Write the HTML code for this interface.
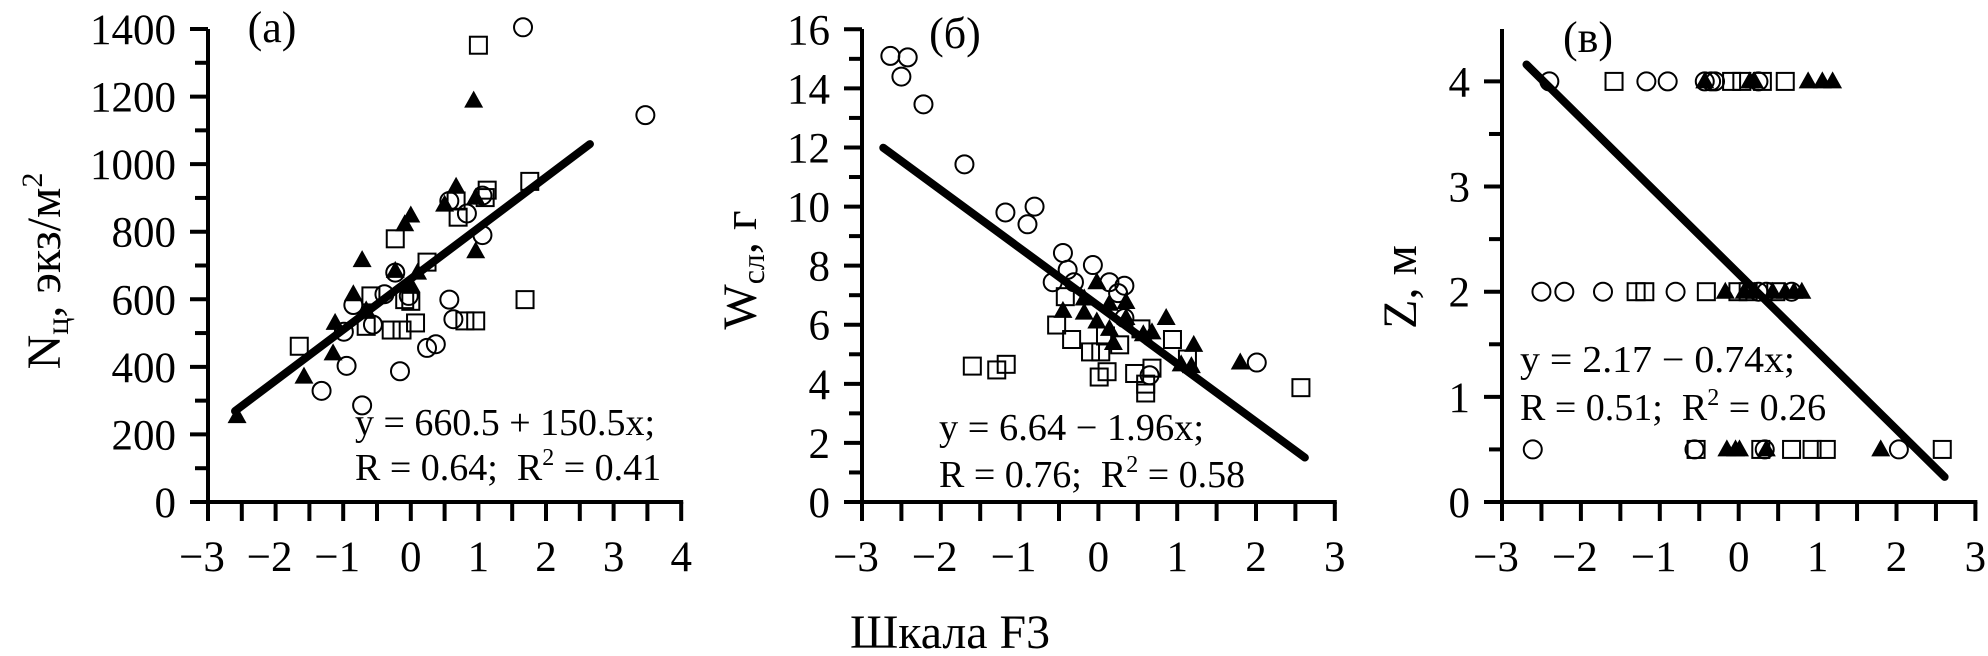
<!DOCTYPE html>
<html><head><meta charset="utf-8">
<style>
html,body{margin:0;padding:0;background:#fff;}
svg{display:block;font-family:"Liberation Serif","DejaVu Serif",serif;}
.pre{white-space:pre;}
</style></head>
<body>
<svg id="chart" width="1988" height="656" viewBox="0 0 1988 656" xmlns="http://www.w3.org/2000/svg">
  <g id="panelA"></g>
  <g id="panelB"></g>
  <g id="panelC"></g>

  <text x="272" y="42" font-size="44" text-anchor="middle">(a)</text>
  <text x="955" y="48" font-size="44" text-anchor="middle">(б)</text>
  <text x="1588" y="52" font-size="44" text-anchor="middle">(в)</text>

  <text transform="translate(60,271) rotate(-90)" font-size="48" text-anchor="middle">N<tspan font-size="32" dy="8">ц</tspan><tspan dy="-8">, экз/м</tspan><tspan font-size="30" dy="-18">2</tspan></text>
  <text transform="translate(756,270) rotate(-90)" font-size="48" text-anchor="middle">W<tspan font-size="32" dy="8">сл</tspan><tspan dy="-8">, г</tspan></text>
  <text transform="translate(1416,287) rotate(-90)" font-size="48" text-anchor="middle">Z, м</text>

  <text class="pre" x="355" y="435" font-size="38" textLength="300" lengthAdjust="spacingAndGlyphs">y = 660.5 + 150.5x;</text>
  <text class="pre" x="355" y="480" font-size="38">R = 0.64;  R<tspan font-size="24" dy="-15">2</tspan><tspan dy="15"> = 0.41</tspan></text>
  <text class="pre" x="939" y="440" font-size="38" textLength="265" lengthAdjust="spacingAndGlyphs">y = 6.64 − 1.96x;</text>
  <text class="pre" x="939" y="487" font-size="38">R = 0.76;  R<tspan font-size="24" dy="-15">2</tspan><tspan dy="15"> = 0.58</tspan></text>
  <text class="pre" x="1520" y="372" font-size="38" textLength="275" lengthAdjust="spacingAndGlyphs">y = 2.17 − 0.74x;</text>
  <text class="pre" x="1520" y="420" font-size="38">R = 0.51;  R<tspan font-size="24" dy="-15">2</tspan><tspan dy="15"> = 0.26</tspan></text>

  <text x="950" y="648" font-size="48" text-anchor="middle" textLength="200" lengthAdjust="spacingAndGlyphs">Шкала F3</text>
</svg>
<script>
// ---- Panel (a) data ----
const aCircX = [1.66,3.47,1.06,0.83,1.06,0.57,0.57,0.63,0.37,0.24,-0.16,-0.03,-0.23,-0.39,-0.56,-0.85,-0.95,-0.99,-1.32,-0.72];
const aCircY = [1405,1145,790,854,907,891,599,541,467,456,387,610,679,615,525,583,403,504,329,286];
const aSqX = [1.0,1.76,1.13,1.1,0.67,0.7,-0.23,0.24,1.69,0.8,0.96,0.07,-0.09,0.0,-0.29,-0.13,-0.59,-0.66,-1.65];
const aSqY = [1352,949,923,901,891,843,779,710,599,536,536,530,599,594,509,509,610,520,461];
const aTriX = [0.93,0.67,0.5,0.96,0.0,-0.09,0.96,-0.72,-0.23,0.1,0.0,-0.85,-0.66,-1.12,-1.15,-1.58,-2.57];
const aTriY = [1188,933,880,901,848,822,742,716,684,679,642,615,567,530,440,371,254];
const aFit = [660.5, 150.5];
const aFitRange = [-2.6, 2.65];
const aXTicks = [-3,-2,-1,0,1,2,3,4];
const aYTicks = [0,200,400,600,800,1000,1200,1400];

// ---- Panel (b) data ----
const bCircX = [-2.64,-2.42,-2.5,-2.22,-1.7,-1.18,-0.81,-0.9,-0.45,-0.39,-0.31,-0.58,-0.07,0.14,0.33,0.25,0.33,2.01,0.65];
const bCircY = [15.1,15.05,14.4,13.46,11.43,9.8,10.0,9.4,8.43,7.86,7.44,7.44,8.02,7.44,7.32,7.07,6.23,4.72,4.29];
const bSqX = [-0.42,-0.53,-0.34,-0.1,0.03,0.09,0.27,0.54,0.94,1.13,-1.6,-1.29,-1.17,0.01,0.11,0.46,0.6,0.68,0.6,2.57];
const bSqY = [6.95,5.99,5.5,5.08,5.08,5.62,5.32,5.86,5.5,4.84,4.6,4.47,4.66,4.23,4.41,4.35,3.99,4.53,3.69,3.87];
const bTriX = [-0.45,-0.02,-0.18,-0.18,-0.02,0.14,0.35,0.14,0.19,0.35,0.68,0.57,0.86,1.21,1.05,1.18,1.8];
const bTriY = [6.47,7.44,6.89,6.41,6.11,6.71,6.77,5.86,5.38,6.23,5.74,5.68,6.23,5.32,4.66,4.6,4.72];
const bFit = [6.64, -1.96];
const bFitRange = [-2.73, 2.62];
const bXTicks = [-3,-2,-1,0,1,2,3];
const bYTicks = [0,2,4,6,8,10,12,14,16];

// ---- Panel (c) data ----
const cCircX = [-2.4,-1.17,-0.9,-0.43,-0.35,-0.3,0.25,-2.5,-2.21,-1.72,-0.8,0.25,0.35,0.67,-2.61,-0.56,0.33,2.03];
const cCircY = [4,4,4,4,4,4,4,2,2,2,2,2,2,2,0.5,0.5,0.5,0.5];
const cSqX = [-1.58,-0.09,0.04,0.3,0.59,-1.3,-1.19,-0.41,-0.01,0.12,0.47,-0.54,0.28,0.67,0.93,1.11,2.58];
const cSqY = [4,4,4,4,4,2,2,2,2,2,2,0.5,0.5,0.5,0.5,0.5,0.5];
const cTriX = [-0.43,0.14,0.2,0.88,1.06,1.19,-0.17,0.07,0.2,0.43,0.59,0.7,0.8,-0.15,-0.04,0.01,0.35,1.8];
const cTriY = [4,4,4,4,4,4,2,2,2,2,2,2,2,0.5,0.5,0.5,0.5,0.5];
const cFit = [2.17, -0.74];
const cFitRange = [-2.69, 2.61];
const cXTicks = [-3,-2,-1,0,1,2,3];
const cYTicks = [0,1,2,3,4];

const NS = "http://www.w3.org/2000/svg";
function mk(tag, attrs, parent){
  const e = document.createElementNS(NS, tag);
  for (const k in attrs) e.setAttribute(k, attrs[k]);
  parent.appendChild(e);
  return e;
}

function panel(g, o){
  const sx = v => o.ax + (v - o.xmin) * o.ux;
  const sy = v => o.y0 - (v - o.ymin) * o.uy;
  const ya = mk('line', {x1:o.ax, y1:o.yTop, x2:o.ax, y2:o.y0+2, stroke:'#000','stroke-width':4}, g);
  
  
  const xa = mk('line', {x1:o.ax-18, y1:o.y0, x2:sx(o.xTicks[o.xTicks.length-1])+2, y2:o.y0, stroke:'#000','stroke-width':4}, g);
  
  
  const yMin = o.yTicks[0], yMax = o.yTicks[o.yTicks.length-1];
  for (let v = yMin; v <= yMax + 1e-9; v += o.yMinor){
    const major = Math.abs(((v - yMin) / o.yMajor) - Math.round((v - yMin) / o.yMajor)) < 1e-6;
    const t = mk('line', {x1:o.ax - (major?18:13), y1:sy(v), x2:o.ax, y2:sy(v), stroke:'#000','stroke-width':4}, g);
    
    
  }
  o.yTicks.forEach(v => {
    const t = mk('text', {x:o.ax-32, y:sy(v)+15, 'font-size':43, 'text-anchor':'end'}, g);
    t.textContent = String(v);
    
    
  });
  const x0 = o.xTicks[0], x1 = o.xTicks[o.xTicks.length-1];
  for (let v = x0; v <= x1 + 1e-9; v += 0.5){
    const t = mk('line', {x1:sx(v), y1:o.y0, x2:sx(v), y2:o.y0+19, stroke:'#000','stroke-width':4}, g);
    
    
  }
  o.xTicks.forEach(v => {
    const t = mk('text', {x:sx(v) - (v<0?6:0), y:571, 'font-size':43, 'text-anchor':'middle'}, g);
    t.textContent = v < 0 ? '\u2212' + Math.abs(v) : String(v);
    
    
  });
  o.circX.forEach((x,i) => {
    const c = mk('circle', {cx:sx(x), cy:sy(o.circY[i]), r:9, fill:'none', stroke:'#000','stroke-width':2}, g);
    
    
  });
  o.sqX.forEach((x,i) => {
    const r = mk('rect', {x:sx(x)-8.5, y:sy(o.sqY[i])-8.5, width:17, height:17, fill:'none', stroke:'#000','stroke-width':2}, g);
    
    
  });
  o.triX.forEach((x,i) => {
    const cx = sx(x), cy = sy(o.triY[i]);
    const p = mk('polygon', {points:`${cx},${cy-10} ${cx+9.5},${cy+7} ${cx-9.5},${cy+7}`, fill:'#000'}, g);
    
    
  });
  const fa = o.fitRange[0], fb = o.fitRange[1];
  const ln = mk('line', {x1:sx(fa), y1:sy(o.fit[0]+o.fit[1]*fa), x2:sx(fb), y2:sy(o.fit[0]+o.fit[1]*fb), stroke:'#000','stroke-width':8,'stroke-linecap':'round'}, g);
  
  
}

panel(document.getElementById('panelA'), {ax:208, xmin:-3, ux:67.6, y0:502, ymin:0, uy:(502-29)/1400, yTop:29,
  xTicks:aXTicks, yTicks:aYTicks, yMajor:200, yMinor:100,
  circX:aCircX, circY:aCircY, sqX:aSqX, sqY:aSqY, triX:aTriX, triY:aTriY, fit:aFit, fitRange:aFitRange});
panel(document.getElementById('panelB'), {ax:862, xmin:-3, ux:78.8, y0:502, ymin:0, uy:(502-29.3)/16, yTop:29,
  xTicks:bXTicks, yTicks:bYTicks, yMajor:2, yMinor:1,
  circX:bCircX, circY:bCircY, sqX:bSqX, sqY:bSqY, triX:bTriX, triY:bTriY, fit:bFit, fitRange:bFitRange});
panel(document.getElementById('panelC'), {ax:1502, xmin:-3, ux:78.9, y0:502, ymin:0, uy:(502-81.4)/4, yTop:29,
  xTicks:cXTicks, yTicks:cYTicks, yMajor:1, yMinor:0.5,
  circX:cCircX, circY:cCircY, sqX:cSqX, sqY:cSqY, triX:cTriX, triY:cTriY, fit:cFit, fitRange:cFitRange});
</script>
</body></html>
